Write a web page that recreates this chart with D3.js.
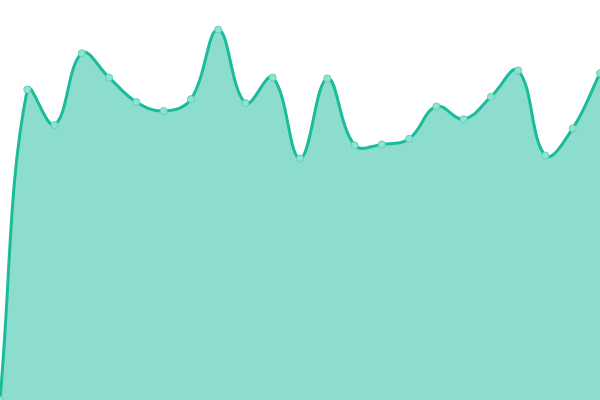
<!DOCTYPE html>
<html><head><meta charset="utf-8">
<script src="https://cdn.jsdelivr.net/npm/d3@7"></script>
<style>html,body{margin:0;padding:0;background:#fff;overflow:hidden}</style>
</head><body>
<svg id="c" width="600" height="400"></svg>
<script>
const labels = d3.range(23).map(i => "P" + (i + 1));
const values = [0, 77.6, 68.75, 86.7, 80.6, 74.5, 72.25, 75.2, 92.6, 74.25, 80.6, 60.4, 80.4, 63.7, 63.9, 65.3, 73.4, 70.2, 75.8, 82.4, 61.1, 67.9, 81.7];

const W = 600, H = 400;
const svg = d3.select("#c");
const x = d3.scalePoint().domain(labels).range([0, W]);
const y = d3.scaleLinear().domain([0, 100]).range([H, 0]);
const data = labels.map((l, i) => ({l, v: values[i]}));

// Distance-weighted spline (tension 0.4), control points capped to the plot area
function SplineCurve(context) { this._context = context; }
SplineCurve.prototype = {
  areaStart() { this._line = 0; },
  areaEnd() { this._line = NaN; },
  lineStart() { this._pts = []; },
  point(px, py) { this._pts.push([+px, +py]); },
  lineEnd() {
    const p = this._pts, n = p.length, c = this._context, t = 0.4;
    const clampX = v => Math.max(0, Math.min(W, v));
    const clampY = v => Math.max(0, Math.min(H, v));
    if (n) {
      const ctrl = p.map((cur, i) => {
        const prev = i > 0 ? p[i - 1] : cur;
        const next = i < n - 1 ? p[i + 1] : cur;
        const d01 = Math.hypot(cur[0] - prev[0], cur[1] - prev[1]);
        const d12 = Math.hypot(next[0] - cur[0], next[1] - cur[1]);
        let s01 = d01 / (d01 + d12), s12 = d12 / (d01 + d12);
        if (isNaN(s01)) s01 = 0; if (isNaN(s12)) s12 = 0;
        const fa = t * s01, fb = t * s12;
        return {
          prev: [clampX(cur[0] - fa * (next[0] - prev[0])), clampY(cur[1] - fa * (next[1] - prev[1]))],
          next: [clampX(cur[0] + fb * (next[0] - prev[0])), clampY(cur[1] + fb * (next[1] - prev[1]))]
        };
      });
      if (this._line) c.lineTo(p[0][0], p[0][1]); else c.moveTo(p[0][0], p[0][1]);
      for (let i = 1; i < n; i++) {
        const a = ctrl[i - 1].next, b = ctrl[i].prev;
        c.bezierCurveTo(a[0], a[1], b[0], b[1], p[i][0], p[i][1]);
      }
      if (this._line || (this._line !== 0 && n === 1)) c.closePath();
    }
    this._line = 1 - this._line;
  }
};
const curve = ctx => new SplineCurve(ctx);

svg.append("path").datum(data)
  .attr("fill", "rgba(26,188,156,0.5)")
  .attr("d", d3.area().x(d => x(d.l)).y0(y(0)).y1(d => y(d.v)).curve(curve));
svg.append("path").datum(data)
  .attr("fill", "none").attr("stroke", "#1abc9c").attr("stroke-width", 3)
  .attr("d", d3.line().x(d => x(d.l)).y(d => y(d.v)).curve(curve));
svg.selectAll("circle").data(data).join("circle")
  .attr("cx", d => x(d.l)).attr("cy", d => y(d.v)).attr("r", 3.5)
  .attr("fill", "#8ee3d2").attr("stroke", "#5fd3bb").attr("stroke-width", 1);
</script>
</body></html>
